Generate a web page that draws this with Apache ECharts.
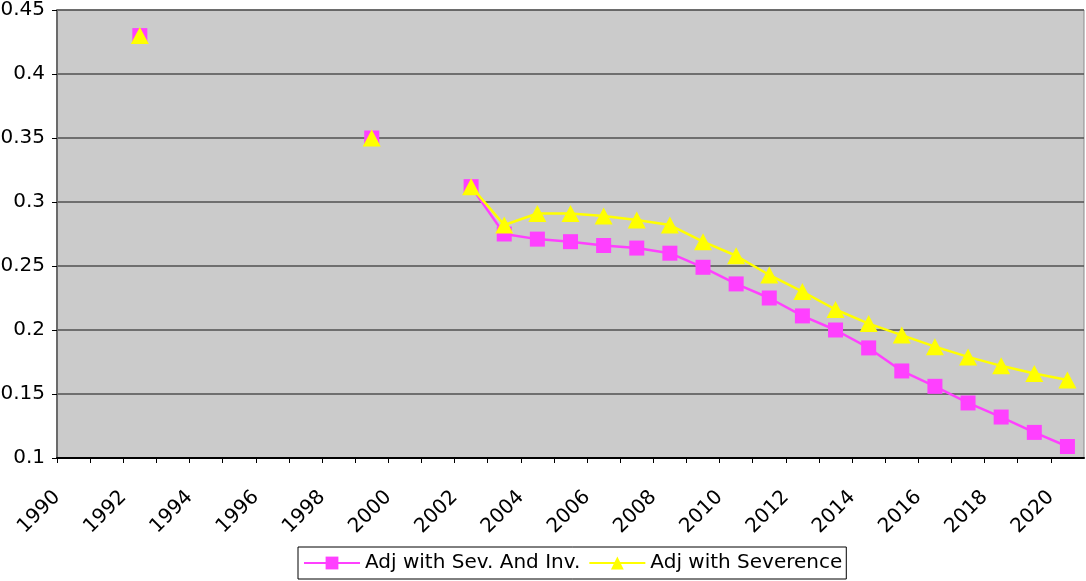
<!DOCTYPE html>
<html>
<head>
<meta charset="utf-8">
<script src="https://cdn.jsdelivr.net/npm/echarts@6/dist/echarts.min.js"></script>
<style>
  html, body { margin: 0; padding: 0; background: #fff; }
  #chart { width: 1086px; height: 581px; }
</style>
</head>
<body>
<div id="chart"></div>
<script>
// years on the axis, 1990 .. 2020
const years = [1990, 1991, 1992, 1993, 1994, 1995, 1996, 1997, 1998, 1999,
    2000, 2001, 2002, 2003, 2004, 2005, 2006, 2007, 2008, 2009,
    2010, 2011, 2012, 2013, 2014, 2015, 2016, 2017, 2018, 2019, 2020]
// null = no value for that year
const sevAndInv = [null, null, 0.43, null, null, null, null, null, null, 0.35,
    null, null, 0.312, 0.275, 0.271, 0.269, 0.266, 0.264, 0.260, 0.249,
    0.236, 0.225, 0.211, 0.200, 0.186, 0.168, 0.156, 0.143, 0.132, 0.120, 0.109]
const severence = [null, null, 0.43, null, null, null, null, null, null, 0.35,
    null, null, 0.312, 0.282, 0.291, 0.291, 0.289, 0.286, 0.282, 0.269,
    0.258, 0.243, 0.230, 0.216, 0.205, 0.196, 0.187, 0.179, 0.172, 0.166, 0.161]
const seriesNames = ['Adj with Sev. And Inv.', 'Adj with Severence']

// points sit in the middle of each year slot, ticks at the slot edges
function toPoints(vals) {
    return years.map(function (y, i) {
        return [y + 0.5, vals[i] === null ? '-' : vals[i]]
    })
}

const chart = echarts.init(document.getElementById('chart'))
const font = 'DejaVu Sans'
chart.setOption({
    animation: false,
    grid: {
        left: 57, right: 2, top: 10, bottom: 123,
        outerBoundsMode: 'none',
        containLabel: false,
        show: true,
        backgroundColor: '#cbcbcb',
        borderColor: '#8a8a8a',
        borderWidth: 1
    },
    legend: {
        left: 298, top: 547,
        data: seriesNames,
        backgroundColor: '#fff',
        borderColor: '#000',
        borderWidth: 1,
        padding: [6, 4, 6, 5],
        itemGap: 8,
        itemWidth: 56,
        itemHeight: 16,
        textStyle: { fontFamily: font, fontSize: 20, color: '#000' }
    },
    xAxis: {
        type: 'value',
        min: 1990,
        max: 2021,
        interval: 1,
        splitLine: { show: false },
        axisLine: { lineStyle: { color: '#000', width: 2 } },
        axisTick: { show: true, length: 5, lineStyle: { color: '#000' } },
        axisLabel: {
            rotate: 45,
            margin: 36,
            fontFamily: font,
            fontSize: 20,
            color: '#000',
            showMaxLabel: false,
            formatter: function (v) {
                return v % 2 === 0 ? String(v) : ''
            }
        }
    },
    yAxis: {
        type: 'value',
        min: 0.1,
        max: 0.45,
        interval: 0.05,
        axisLine: { show: true, lineStyle: { color: '#6a6a6a', width: 2 } },
        axisTick: { show: true, length: 5, lineStyle: { color: '#000' } },
        splitLine: { lineStyle: { color: '#505050', width: 1.5 } },
        axisLabel: {
            margin: 12,
            fontFamily: font,
            fontSize: 20,
            color: '#000',
            formatter: function (v) { return String(+v.toFixed(2)) }
        }
    },
    series: [
        {
            name: seriesNames[0],
            type: 'line',
            data: toPoints(sevAndInv),
            connectNulls: false,
            symbol: 'rect',
            symbolSize: 15,
            lineStyle: { color: '#ff40ff', width: 2.5 },
            itemStyle: { color: '#ff40ff' }
        },
        {
            name: seriesNames[1],
            type: 'line',
            data: toPoints(severence),
            connectNulls: false,
            symbol: 'triangle',
            symbolSize: [18, 17],
            lineStyle: { color: '#ffff00', width: 2.5 },
            itemStyle: { color: '#ffff00' }
        }
    ]
})
</script>
</body>
</html>
